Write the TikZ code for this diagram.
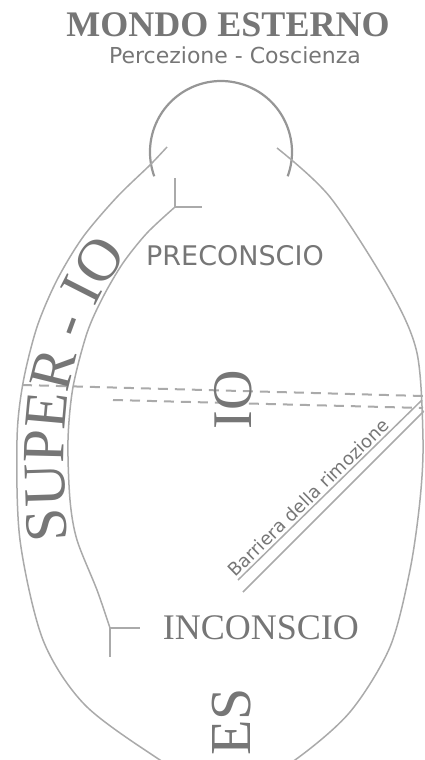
\documentclass[tikz,border=0pt]{standalone}
\usepackage{fontspec}
\setmainfont{Liberation Serif}
\newfontfamily\dejavu{DejaVu Sans}
\usetikzlibrary{positioning, decorations.text}
\definecolor{linegray}{RGB}{170,170,170}
\definecolor{arcgray}{RGB}{150,150,150}
\definecolor{textgray}{RGB}{118,118,118}

\begin{document}
\begin{tikzpicture}[
    x=1pt, y=-1pt,
    outline/.style={draw=linegray, line width=1.5pt},
    arcline/.style={draw=arcgray, line width=2.2pt},
    censor/.style={draw=linegray, line width=2pt, dash pattern=on 10pt off 7pt},
    title/.style={font=\bfseries\fontsize{36}{36}\selectfont, text=textgray, inner sep=0pt},
    subtitle/.style={font=\dejavu\fontsize{22}{22}\selectfont, text=textgray, inner sep=0pt},
    zone/.style={font=\dejavu\fontsize{27}{27}\selectfont, text=textgray, inner sep=0pt},
    deepzone/.style={font=\fontsize{36}{36}\selectfont, text=textgray, inner sep=0pt},
    instance/.style={font=\fontsize{56}{56}\selectfont, text=textgray, inner sep=0pt, rotate=90}
  ]
  \useasboundingbox (0,0) rectangle (424,760);
  \clip (0,0) rectangle (424,760);

  % outer world
  \node[title] (mondo) at (228,24.5) {MONDO ESTERNO};
  \node[subtitle, below=10pt of mondo, xshift=7pt] (perc) {Percezione - Coscienza};

  % perception arc
  \draw[arcline] (287.7,176.3) arc[start angle=20, end angle=-200, radius=71];

  % outer egg
  \draw[outline] plot[smooth] coordinates {(167,147) (150,165) (117,197) (83,237) (57,280) (37,327) (23,383) (17,440) (20,540) (43,640) (85,705) (160,760) (228,800)};
  \draw[outline] plot[smooth] coordinates {(277,148) (330,197) (390,290) (417,353) (423,440) (420,500) (410,570) (390,647) (350,712) (295,760) (228,800)};

  % super-io band
  \draw[outline] plot[smooth] coordinates {(175,207) (147,233) (123,263) (103,297) (87,333) (73,387) (68,440) (70,500) (77,540) (97,590) (110,628)};
  \coordinate (ytop) at (175,207);
  \coordinate (ybot) at (110,628);
  \draw[outline] (ytop) -- ++(0,-29);
  \draw[outline] (ytop) -- ++(27,0);
  \draw[outline] (ybot) -- ++(0,29);
  \draw[outline] (ybot) -- ++(30,0);

  % censorship
  \coordinate (c1l) at (22,385);
  \coordinate (c1r) at (423,396);
  \coordinate (c2l) at (113,400);
  \coordinate (c2r) at (423,408);
  \draw[censor] (c1l) -- (c1r);
  \draw[censor] (c2l) -- (c2r);

  % barrier
  \coordinate (b1s) at (238,580);
  \coordinate (b1e) at (422,400);
  \coordinate (b2s) at (243,592);
  \coordinate (b2e) at (424,411);
  \draw[outline] (b2s) -- (b2e);
  \draw[outline] (b1s) -- (b1e)
    node[pos=0.42, sloped, above=2pt, font=\dejavu\fontsize{18}{18}\selectfont, text=textgray, inner sep=0pt] (barr) {Barriera della rimozione};

  % zones
  \node[zone] (precon) at (235,256) {PRECONSCIO};
  \node[deepzone] (incon) at (261,628) {INCONSCIO};
  \node[instance] (io) at (233,400) {IO};
  \node[instance, font=\fontsize{58}{58}\selectfont] (es) at (232,722) {ES};

  \path[decorate, decoration={text along path, text color=textgray, text align=left,
      text={|\fontsize{60}{60}\selectfont|SUPER - IO}}]
    (68,540) .. controls (62,480) and (63,420) .. (70,383)
    .. controls (76,355) and (88,320) .. (100,297)
    .. controls (110,278) and (125,255) .. (150,228);
\end{tikzpicture}
\end{document}
